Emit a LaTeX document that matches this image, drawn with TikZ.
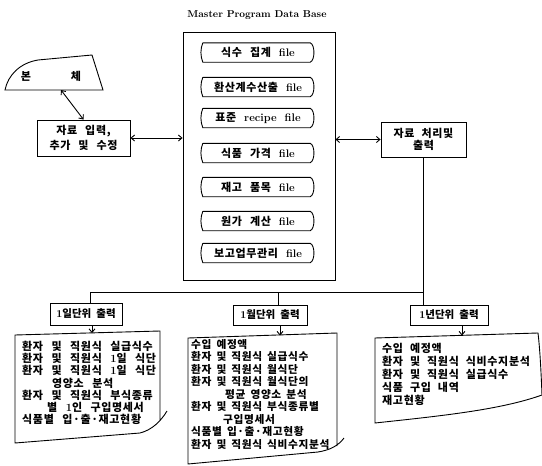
\documentclass[tikz,border=0pt]{standalone}
\usepackage{fontspec}
\newfontfamily\kr{Noto Sans CJK KR}[LetterSpace=6]
\newfontfamily\krn{Noto Sans CJK KR}
\usetikzlibrary{arrows.meta,calc}
\newcommand\en[1]{{\normalfont\bfseries #1}}
\newlength\kgap
\newcommand\setgap[1]{\setlength\kgap{#1}\spaceskip=\kgap\relax}
\tikzset{
  every node/.style={inner sep=0pt},
  gap/.style={execute at begin node={\setgap{#1}}},
  kt/.style={font=\kr\bfseries\fontsize{11}{12.5}\selectfont,gap=8pt},
  kn/.style={font=\krn\bfseries\fontsize{10.5}{12.5}\selectfont,gap=5pt},
  ln/.style={line width=0.9pt},
  arr/.style={ln,-{Straight Barb[length=3.5pt,width=6pt]}},
  darr/.style={ln,{Straight Barb[length=3.5pt,width=6pt]}-{Straight Barb[length=3.5pt,width=6pt]}},
}
\begin{document}
\begin{tikzpicture}[x=1pt,y=-1pt]
\useasboundingbox (0,0) rectangle (542,466);
% title and data base frame
\node[font=\bfseries\fontsize{10}{12}\selectfont] (title) at (257,15) {Master Program Data Base};
\node[draw,ln,minimum width=152,minimum height=248] (mdb) at (259,156) {};
\foreach \i/\yy/\txt in {1/52.5/{식수 집계 \en{file}},2/87/{환산계수산출 \en{file}},3/118/{표준 \en{recipe file}},4/153/{식품 가격 \en{file}},5/187/{재고 품목 \en{file}},6/221/{원가 계산 \en{file}},7/253/{보고업무관리 \en{file}}}{
  \node[kt,minimum width=110,minimum height=19] (f\i) at (258,\yy) {\txt};
  \draw[ln] (f\i.north west) -- ([xshift=-3]f\i.north east)
    .. controls ([xshift=2,yshift=-2]f\i.north east) and ([xshift=2,yshift=2]f\i.south east) .. ([xshift=-3]f\i.south east)
    -- (f\i.south west)
    .. controls ([xshift=-2.5,yshift=6]f\i.south west) and ([xshift=-2.5,yshift=-6]f\i.north west) .. (f\i.north west);
}
% manual input
\draw[ln] (5,90) -- (103,90) -- (92,55) -- (38,60) .. controls (20,63) and (8,75) .. (5,90) -- cycle;
\node[kt] (bonche) at (51,76) {본\hspace{40pt}체};
\coordinate (bc) at (61,90);
% side boxes
\node[kt,font=\kr\bfseries\fontsize{11}{14.5}\selectfont,draw,ln,minimum width=93,minimum height=36,align=center] (inbox) at (83.5,138) {자료 입력,\\추가 및 수정};
\node[kt,font=\kr\bfseries\fontsize{11}{12}\selectfont,gap=7pt,draw,ln,minimum width=85,minimum height=35,align=center] (outbox) at (423.5,139.5) {자료 처리및\\출력};
\draw[darr] (bc) -- (inbox.north);
\draw[darr] (inbox.east) -- (inbox.east -| mdb.west);
\draw[darr] (mdb.east |- outbox.west) -- (outbox.west);
% output boxes
\node[kn,draw,ln,minimum width=72,minimum height=22] (d1) at (86,314) {\en{1}일단위 출력};
\node[kn,draw,ln,minimum width=74,minimum height=20] (d2) at (270,315) {\en{1}월단위 출력};
\node[kn,draw,ln,minimum width=78,minimum height=20] (d3) at (449,315) {\en{1}년단위 출력};
\coordinate (j1) at (90,292);
\coordinate (j2) at (278,292);
\draw[ln] (j1 |- d1.north) -- (j1) -- (outbox.south |- j1);
\draw[ln] (outbox.south) -- (outbox.south |- d3.north);
\draw[ln] (j2) -- (j2 |- d2.north);
% documents
\draw[ln] (160,420) -- (160,331) -- (15,335) -- (15,443) -- (140,433) .. controls (152,430) and (161,421) .. (167,411);
\draw[ln] (337,446) -- (337,333) -- (188,338) -- (188,464) -- (318,452) .. controls (330,450) and (338,446) .. (344,438);
\draw[ln] (542,395) .. controls (541,370) and (540,350) .. (538,333) -- (375,338) -- (375,423) .. controls (440,416) and (500,410) .. (542,395);
\coordinate (t1) at (92,333);
\coordinate (t2) at (280,335.5);
\coordinate (t3) at (462,335.5);
\draw[arr] (d1.south -| t1) -- (t1);
\draw[arr] (d2.south -| t2) -- (t2);
\draw[arr] (d3.south -| t3) -- (t3);
\node[kt,font=\kr\bfseries\fontsize{11}{12.2}\selectfont,gap=8.5pt,align=left,anchor=north west] (x1) at (22,341) {환자 및 직원식 실급식수\\환자 및 직원식 \en{1}일 식단\\환자 및 직원식 \en{1}일 식단\\\hspace*{30pt}영양소 분석\\환자 및 직원식 부식종류\\\hspace*{25pt}별 \en{1}인 구입명세서\\식품별 입·출·재고현황};
\node[kt,font=\kr\bfseries\fontsize{10.7}{12.5}\selectfont,gap=5pt,align=left,anchor=north west] (x2) at (191,339) {수입 예정액\\환자 및 직원식 실급식수\\환자 및 직원식 월식단\\환자 및 직원식 월식단의\\\hspace*{34pt}평균 영양소 분석\\환자 및 직원식 부식종류별\\\hspace*{32pt}구입명세서\\식품별 입·출·재고현황\\환자 및 직원식 식비수지분석};
\node[kt,font=\kr\bfseries\fontsize{11}{13}\selectfont,gap=7pt,align=left,anchor=north west] (x3) at (382,343) {수입 예정액\\환자 및 직원식 식비수지분석\\환자 및 직원식 실급식수\\식품 구입 내역\\재고현황};
\end{tikzpicture}
\end{document}
